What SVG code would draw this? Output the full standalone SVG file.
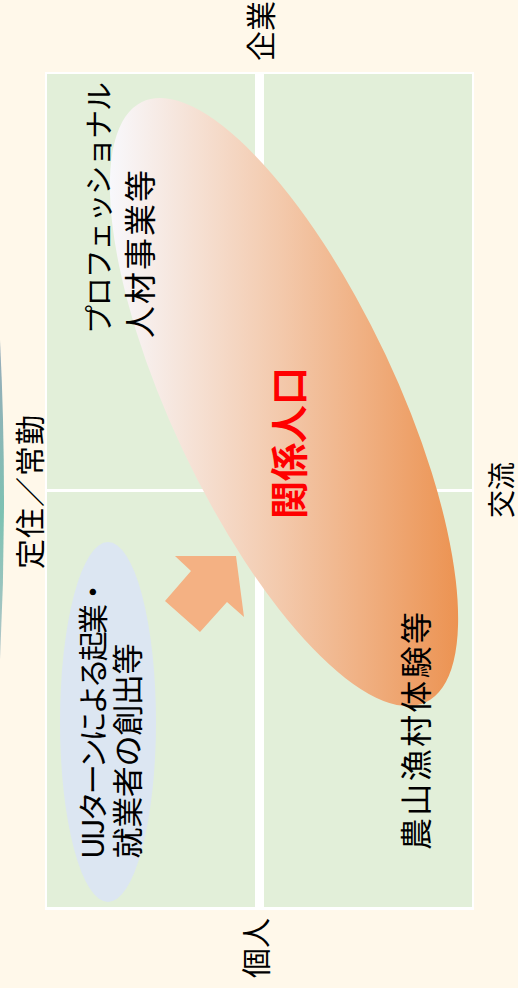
<svg xmlns="http://www.w3.org/2000/svg" width="518" height="988" viewBox="0 0 518 988">
  <defs>
    <linearGradient id="gOrange" gradientUnits="userSpaceOnUse" x1="110" y1="0" x2="458" y2="0">
      <stop offset="0" stop-color="#F8F8FC"/>
      <stop offset="0.5" stop-color="#F3C8AA"/>
      <stop offset="1" stop-color="#EC9352"/>
    </linearGradient>
    <linearGradient id="gEdge" x1="0" y1="0" x2="0" y2="1">
      <stop offset="0" stop-color="#98ABBA"/>
      <stop offset="0.55" stop-color="#7EC2B2"/>
      <stop offset="1" stop-color="#B4C6CA"/>
    </linearGradient>
    <style>
      .t { font-family: "Noto Sans CJK JP", "Noto Sans", sans-serif; fill: #000; dominant-baseline: central; text-anchor: middle; }
      .quad { fill: #E2EFD9; }
    </style>
  </defs>

  <rect x="0" y="0" width="518" height="988" fill="#FFF8EA"/>

  <g id="grid">
    <rect x="45" y="72" width="429" height="838" fill="#FFFFFF"/>
    <rect class="quad" x="47" y="74" width="208" height="415"/>
    <rect class="quad" x="264" y="74" width="208" height="415"/>
    <rect class="quad" x="47" y="492" width="208" height="415"/>
    <rect class="quad" x="264" y="492" width="208" height="415"/>
  </g>

  <g id="edge-shape">
    <path d="M0,340 Q8,500 0,660 Z" fill="url(#gEdge)"/>
  </g>

  <g id="uij">
    <ellipse cx="108" cy="722" rx="48" ry="180" fill="#DCE6F2"/>
    <text class="t" font-size="30" textLength="282" transform="translate(91,718) rotate(-90)">UIJターンによる起業・</text>
    <text class="t" font-size="31" textLength="215" transform="translate(125,751) rotate(-90)">就業者の創出等</text>
  </g>

  <g id="kankei">
    <path d="M142.4,101.7 A332,112 64.75 1 1 425.6,702.3 A332,112 64.75 1 1 142.4,101.7 Z" fill="url(#gOrange)"/>
    <text class="t" font-size="38" font-weight="bold" style="fill:#FF0000" textLength="152" transform="translate(286,443) rotate(-90)">関係人口</text>
  </g>

  <g id="arrow">
    <polygon points="175,556 236,556 244,617 227,602 200,632 165,601 191,571" fill="#F4B183"/>
  </g>

  <g id="pro">
    <text class="t" font-size="29" textLength="252" transform="translate(97,208) rotate(-90)">プロフェッショナル</text>
    <text class="t" font-size="32" textLength="168" transform="translate(138,254) rotate(-90)">人材事業等</text>
  </g>

  <g id="noson">
    <text class="t" font-size="32" textLength="238" transform="translate(414,731) rotate(-90)">農山漁村体験等</text>
  </g>

  <g id="axis-labels">
    <text class="t" font-size="30" transform="translate(259,31) rotate(-90)">企業</text>
    <text class="t" font-size="30" transform="translate(254,948) rotate(-90)">個人</text>
    <text class="t" font-size="30" textLength="154" transform="translate(28,492) rotate(-90)">定住／常勤</text>
    <text class="t" font-size="28" transform="translate(500,490) rotate(-90)">交流</text>
  </g>
</svg>
